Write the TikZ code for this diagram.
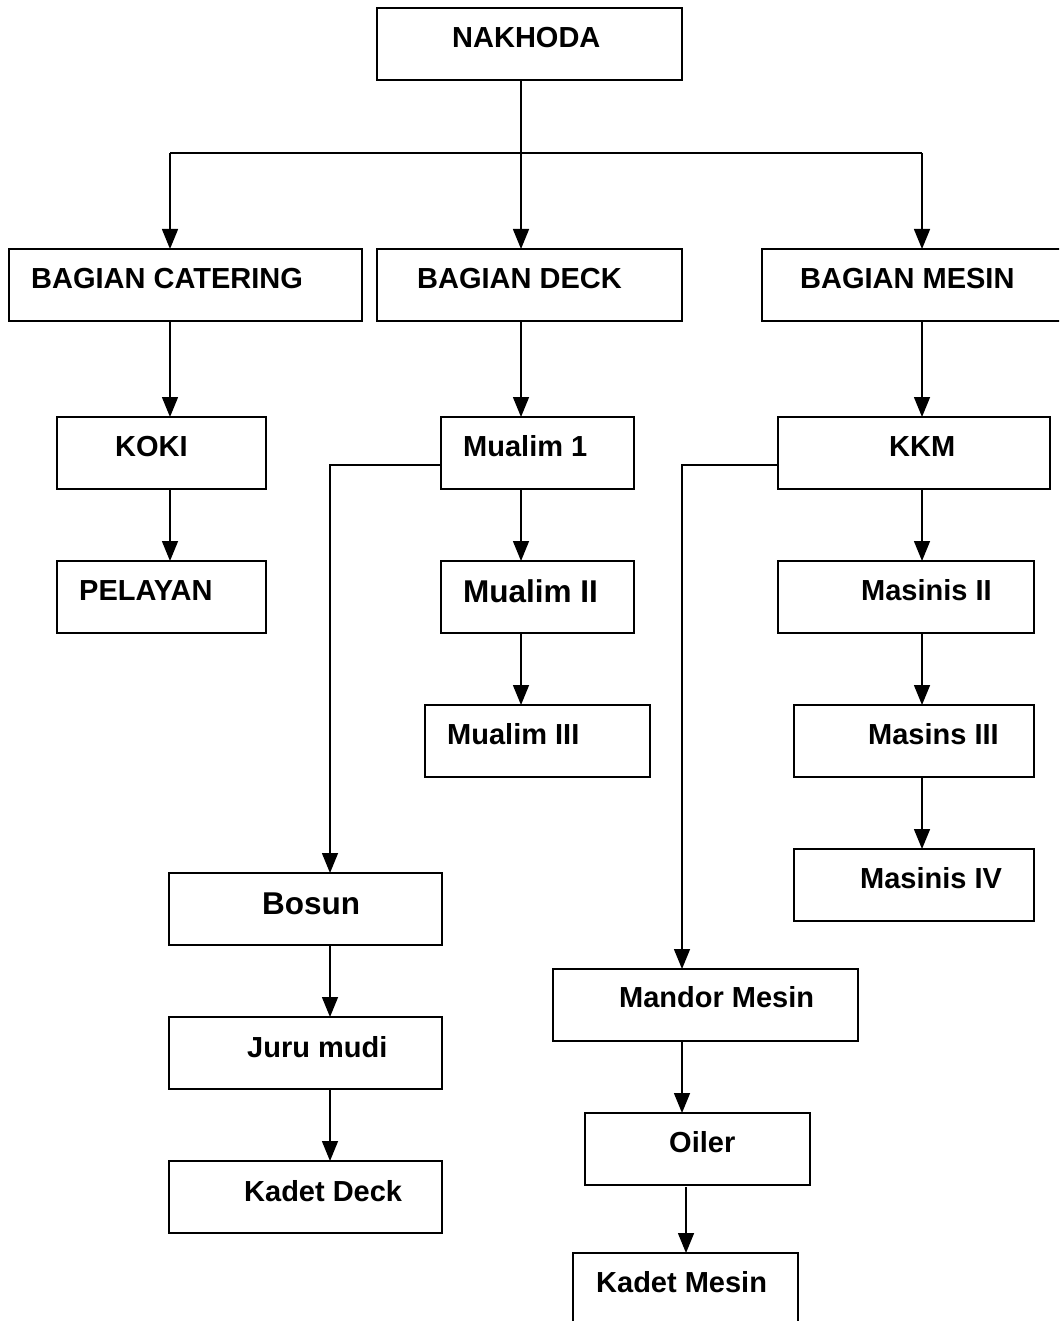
\documentclass[tikz,border=0pt]{standalone}
\usepackage{fontspec}
\setmainfont{Liberation Sans}
\usetikzlibrary{arrows.meta}
\tikzset{
  box/.style={draw=black, line width=1.8pt, inner sep=0pt, outer sep=0pt, anchor=north west, fill=white},
  txt/.style={anchor=base west, inner sep=0pt, font=\fontsize{29}{32}\selectfont\bfseries},
  bigtxt/.style={anchor=base west, inner sep=0pt, font=\fontsize{31.5}{34}\selectfont\bfseries},
  ln/.style={draw=black, line width=1.5pt},
  arr/.style={ln, -{Triangle[length=20pt,width=16pt]}},
}
\begin{document}
\begin{tikzpicture}[x=1pt,y=-1pt]
\useasboundingbox (0,0) rectangle (1059,1321);
\clip (0,0) rectangle (1059,1321);
\fill[white] (0,0) rectangle (1059,1321);
% boxes
\node[box, minimum width=305pt, minimum height=72pt] (nak) at (377,8) {};
\node[box, minimum width=353pt, minimum height=72pt] (cat) at (9,249) {};
\node[box, minimum width=305pt, minimum height=72pt] (deck) at (377,249) {};
\node[box, minimum width=320pt, minimum height=72pt] (mes) at (762,249) {};
\node[box, minimum width=209pt, minimum height=72pt] (koki) at (57,417) {};
\node[box, minimum width=209pt, minimum height=72pt] (pel) at (57,561) {};
\node[box, minimum width=193pt, minimum height=72pt] (ma1) at (441,417) {};
\node[box, minimum width=193pt, minimum height=72pt] (ma2) at (441,561) {};
\node[box, minimum width=225pt, minimum height=72pt] (ma3) at (425,705) {};
\node[box, minimum width=272pt, minimum height=72pt] (kkm) at (778,417) {};
\node[box, minimum width=256pt, minimum height=72pt] (ms2) at (778,561) {};
\node[box, minimum width=240pt, minimum height=72pt] (ms3) at (794,705) {};
\node[box, minimum width=240pt, minimum height=72pt] (ms4) at (794,849) {};
\node[box, minimum width=273pt, minimum height=72pt] (bos) at (169,873) {};
\node[box, minimum width=273pt, minimum height=72pt] (jur) at (169,1017) {};
\node[box, minimum width=273pt, minimum height=72pt] (kdd) at (169,1161) {};
\node[box, minimum width=305pt, minimum height=72pt] (man) at (553,969) {};
\node[box, minimum width=225pt, minimum height=72pt] (oil) at (585,1113) {};
\node[box, minimum width=225pt, minimum height=76pt] (kdm) at (573,1253) {};
% texts
\node[txt] (tnak) at (452,48) {NAKHODA};
\node[txt] (tcat) at (31,288) {BAGIAN CATERING};
\node[txt] (tdeck) at (417,288) {BAGIAN DECK};
\node[txt] (tmes) at (800,288) {BAGIAN MESIN};
\node[txt] (tkoki) at (115,456) {KOKI};
\node[txt] (tpel) at (79,600) {PELAYAN};
\node[txt] (tma1) at (463,456) {Mualim 1};
\node[bigtxt] (tma2) at (463,602) {Mualim II};
\node[txt] (tma3) at (447,744) {Mualim III};
\node[txt] (tkkm) at (889,456) {KKM};
\node[txt] (tms2) at (861,600) {Masinis II};
\node[txt] (tms3) at (868,744) {Masins III};
\node[txt] (tms4) at (860,888) {Masinis IV};
\node[bigtxt] (tbos) at (262,914) {Bosun};
\node[txt] (tjur) at (247,1057) {Juru mudi};
\node[txt] (tkdd) at (244,1201) {Kadet Deck};
\node[txt] (tman) at (619,1007) {Mandor Mesin};
\node[txt] (toil) at (669,1152) {Oiler};
\node[txt] (tkdm) at (596,1292) {Kadet Mesin};
% junction coordinates
\coordinate (jl) at (170,153);
\coordinate (jm) at (521,153);
\coordinate (jr) at (922,153);
\coordinate (jb) at (330,465);
\coordinate (jk) at (682,465);
\coordinate (jo) at (686,1187);
% connectors
\draw[arr] (nak.south -| jm) -- (deck.north -| jm);
\draw[ln] (jl) -- (jr);
\draw[arr] (jl) -- (cat.north -| jl);
\draw[arr] (jr) -- (mes.north -| jr);
\draw[arr] (cat.south -| jl) -- (koki.north -| jl);
\draw[arr] (koki.south -| jl) -- (pel.north -| jl);
\draw[arr] (deck.south -| jm) -- (ma1.north -| jm);
\draw[arr] (ma1.south -| jm) -- (ma2.north -| jm);
\draw[arr] (ma2.south -| jm) -- (ma3.north -| jm);
\draw[arr] (ma1.west |- jb) -- (jb) -- (bos.north -| jb);
\draw[arr] (bos.south -| jb) -- (jur.north -| jb);
\draw[arr] (jur.south -| jb) -- (kdd.north -| jb);
\draw[arr] (mes.south -| jr) -- (kkm.north -| jr);
\draw[arr] (kkm.south -| jr) -- (ms2.north -| jr);
\draw[arr] (ms2.south -| jr) -- (ms3.north -| jr);
\draw[arr] (ms3.south -| jr) -- (ms4.north -| jr);
\draw[arr] (kkm.west |- jk) -- (jk) -- (man.north -| jk);
\draw[arr] (man.south -| jk) -- (oil.north -| jk);
\draw[arr] (jo) -- (kdm.north -| jo);
\end{tikzpicture}
\end{document}
